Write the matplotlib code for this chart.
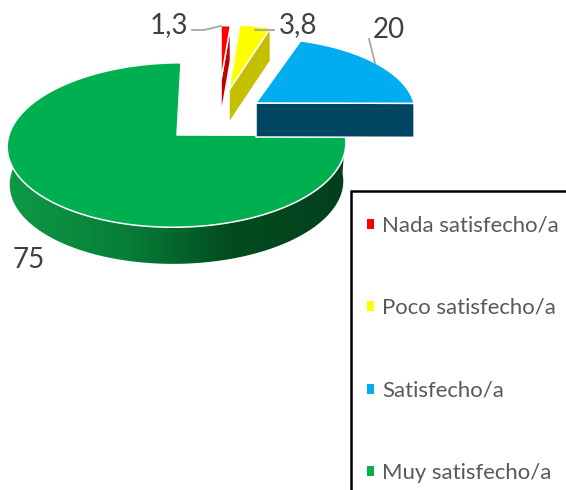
import numpy as np
import matplotlib
matplotlib.use("Agg")
import matplotlib.pyplot as plt
from matplotlib.patches import Polygon, Patch, Rectangle
from matplotlib.colors import LinearSegmentedColormap

categories = ["Nada satisfecho/a", "Poco satisfecho/a", "Satisfecho/a", "Muy satisfecho/a"]
values = [1.3, 3.8, 20, 75]
value_labels = ["1,3", "3,8", "20", "75"]
top_colors = ["#FF0000", "#FFFF00", "#00AEEF", "#00B050"]
side_colors = ["#C00000", "#C4C000", "#004561", "#0E9A47"]

# layout of each exploded slice (apex x, apex y, x radius, y radius, depth, lean)
slice_layout = [(221, 80, 130, 61, 35, 0), (229, 90, 147, 73, 33, 0),
                (256, 103, 158, 73, 34, 0), (177, 135, 168, 81, 38, 4)]
PERSP = 0.122

plt.rcParams["font.family"] = ["Lato", "DejaVu Sans"]
fig = plt.figure(figsize=(5.66, 4.90), dpi=100)
ax = fig.add_axes([0, 0, 1, 1])
ax.axis("off")


def project(t, lay, scale=1.0, drop=0.0):
    x0, y0, rx, ry, _, lean = lay
    a = np.radians(t)
    u, v = np.sin(a), np.cos(a)
    d = 1 + PERSP * v
    return x0 + scale * rx * u / d + lean * v, y0 + drop - scale * ry * v / d


cum = np.cumsum([0] + values) / np.sum(values) * 360
EDGE = dict(edgecolor="white", linewidth=1.1, joinstyle="round")

# green: front wall with a shading gradient, then the top face
lay = slice_layout[3]
ts = np.linspace(cum[3], 300, 200)
xa, ya = project(ts, lay)
xb, yb = project(ts, lay, scale=0.985, drop=lay[4])
wall = Polygon(np.r_[np.c_[xa, ya], np.c_[xb, yb][::-1]], closed=True,
               facecolor="none", edgecolor="none", zorder=1)
ax.add_patch(wall)
cmap = LinearSegmentedColormap.from_list(
    "wall", [(0, side_colors[3]), (0.35, "#077F38"), (0.65, "#024D20"), (1, "#023F1C")])
img = ax.imshow(np.linspace(0, 1, 256)[None, :], extent=(5, 348, 280, 130), cmap=cmap,
                aspect="auto", zorder=1)
img.set_clip_path(wall)

ts = np.linspace(cum[3], cum[4], 300)
xa, ya = project(ts, lay)
ax.add_patch(Polygon(np.r_[[[lay[0], lay[1]]], np.c_[xa, ya]], closed=True,
                     facecolor=top_colors[3], zorder=2, **EDGE))

# exploded slices: visible cut wall, then top face
for i in range(3):
    lay = slice_layout[i]
    x0, y0, depth = lay[0], lay[1], lay[4]
    ex, ey = project(cum[i + 1], lay)
    ax.add_patch(Polygon([(x0, y0), (ex, ey), (ex, ey + depth), (x0, y0 + depth)], closed=True,
                         facecolor=side_colors[i], zorder=3 + i, **EDGE))
    ts = np.linspace(cum[i], cum[i + 1], 60)
    xa, ya = project(ts, lay)
    ax.add_patch(Polygon(np.r_[[[x0, y0]], np.c_[xa, ya]], closed=True,
                         facecolor=top_colors[i], zorder=3 + i, **EDGE))

# leader lines
LEAD = dict(color="#A6A6A6", lw=1.3, zorder=8)
ax.plot([192, 204, 221], [30, 30, 26], **LEAD)
ax.plot([255, 274], [30, 30], **LEAD)
ax.plot([369, 375], [39, 63], **LEAD)

# value labels
label_xy = [(169, 25), (298, 25), (389, 30), (29, 260)]
for s, (x, y) in zip(value_labels, label_xy):
    ax.text(x, y, s, fontsize=20, color="#404040", ha="center", va="center", zorder=9)

# legend frame runs off the canvas
ax.add_patch(Rectangle((350.5, 191), 300, 400, facecolor="white", edgecolor="black",
                       linewidth=1.8, zorder=10, clip_on=True))
handles = [Patch(facecolor=c, edgecolor="none") for c in top_colors]
leg = ax.legend(handles, categories, loc="upper left", bbox_to_anchor=(367 / 566, 1 - 215.5 / 490),
                bbox_transform=ax.transAxes, frameon=False, fontsize=15.9, labelcolor="#595959",
                handlelength=0.32, handleheight=0.32, handletextpad=0.38, labelspacing=2.83,
                borderpad=0, borderaxespad=0)
leg.set_zorder(11)

ax.set_xlim(0, 566)
ax.set_ylim(490, 0)
fig.savefig("out.png", dpi=100, facecolor="white")
